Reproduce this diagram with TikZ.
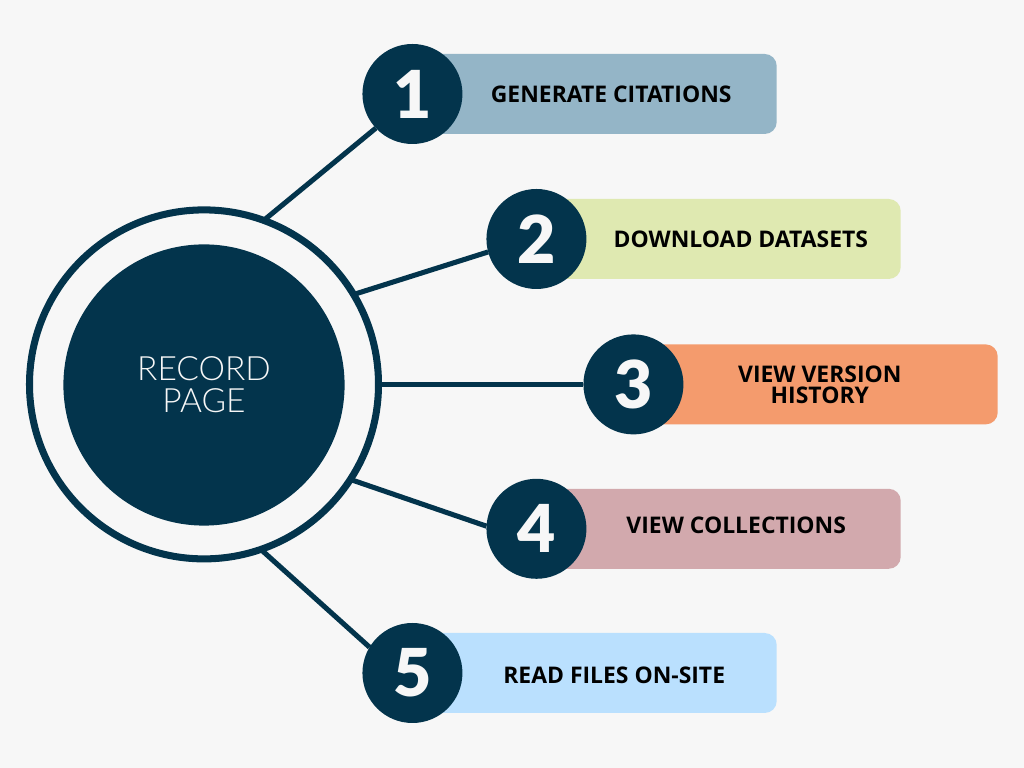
\documentclass[tikz,border=0pt]{standalone}
\usepackage{fontspec}
\setmainfont{Open Sans}
\newfontfamily\hubfont{Lato Light}
\newfontfamily\numfont{Lato Black}
\usetikzlibrary{backgrounds,calc,positioning}
\definecolor{navy}{HTML}{03344C}
\definecolor{pagegray}{HTML}{F7F7F7}
\definecolor{barblue}{HTML}{94B5C7}
\definecolor{bargreen}{HTML}{DFE9B1}
\definecolor{barorange}{HTML}{F49B6D}
\definecolor{barrose}{HTML}{D2A9AD}
\definecolor{barsky}{HTML}{BAE0FE}

\begin{document}
\begin{tikzpicture}
    \tikzset{
        a/.style={draw=navy, line width=3.6pt},
        bar/.style={rectangle, rounded corners=0.3cm, minimum width=8.675cm, minimum height=2cm, inner sep=0, anchor=east},
        num/.style={circle, fill=navy, minimum size=2.5cm, inner sep=0, outer sep=0, text=pagegray, font={\numfont\fontsize{47}{47}\selectfont}},
        lab/.style={align=center, text=black, font={\bfseries\fontsize{16.3}{15}\selectfont}}
    }
    \useasboundingbox (0,0) rectangle (25.6,19.2);

    % centre
    \node [circle, draw=navy, line width=5pt, minimum size=8.725cm, inner sep=0, outer sep=0] (ring) at (5.1,9.59) {};
    \node [circle, fill=navy, minimum size=7.03cm, inner sep=0, text=pagegray, align=center, font={\hubfont\fontsize{23.8}{23}\selectfont}] (hub) at (5.1,9.575) {RECORD\\PAGE};

    % bars
    \node [bar, fill=barblue] (bar1) at (19.425,16.85) {};
    \node [bar, fill=bargreen] (bar2) at (22.525,13.225) {};
    \node [bar, fill=barorange] (bar3) at (24.95,9.59) {};
    \node [bar, fill=barrose] (bar4) at (22.525,5.98) {};
    \node [bar, fill=barsky] (bar5) at (19.425,2.375) {};

    % numbers
    \node [num, left=-0.825cm of bar1.west] (num1) {1};
    \node [num, left=-0.825cm of bar2.west] (num2) {2};
    \node [num, left=-0.825cm of bar3.west] (num3) {3};
    \node [num, left=-0.825cm of bar4.west] (num4) {4};
    \node [num, left=-0.825cm of bar5.west] (num5) {5};

    % texts
    \node at ($(bar1)+(0.2,0)$) [lab] (lab1) {GENERATE CITATIONS};
    \node at ($(bar2)+(0.34,0)$) [lab] (lab2) {DOWNLOAD DATASETS};
    \node at ($(bar3)+(-0.11,0)$) [lab] (lab3) {VIEW VERSION\\HISTORY};
    \node at ($(bar4)+(0.225,0.075)$) [lab] (lab4) {VIEW COLLECTIONS};
    \node at ($(bar5)+(0.275,-0.05)$) [lab] (lab5) {READ FILES ON-SITE};

    \begin{pgfonlayer}{background}
        \fill [pagegray] (0,0) rectangle (25.6,19.2);

        \draw [a] (ring.70) -- (num1.223);
        \draw [a] (ring.31) -- (num2.195);
        \draw [a] (ring.0) -- (num3.180);
        \draw [a] (ring.-33) -- (num4.177);
        \draw [a] (ring.-71) -- (num5.149);
    \end{pgfonlayer}
\end{tikzpicture}
\end{document}
